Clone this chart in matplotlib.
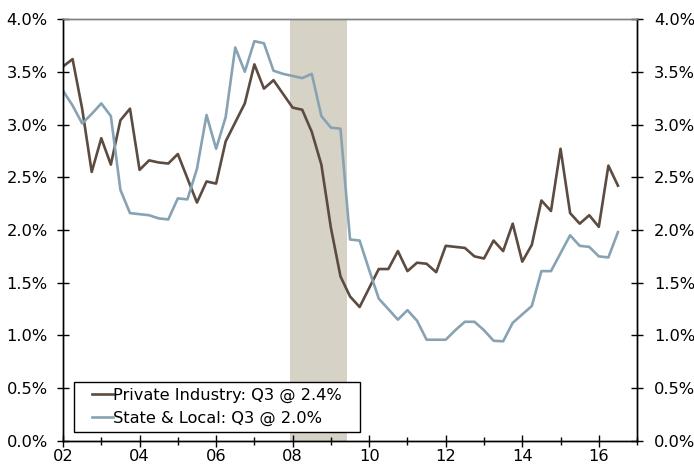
import matplotlib.pyplot as plt
import numpy as np
from matplotlib.patches import Rectangle
from matplotlib.ticker import FuncFormatter, MultipleLocator

# quarterly, 2002 Q1 .. 2016 Q3, % year-over-year
start_year = 2002
private_industry = [3.55, 3.62, 3.15, 2.55, 2.87, 2.62, 3.04, 3.15, 2.57, 2.66,
                    2.64, 2.63, 2.72, 2.49, 2.26, 2.46, 2.44, 2.84, 3.02, 3.20,
                    3.57, 3.34, 3.42, 3.29, 3.16, 3.14, 2.93, 2.62, 2.02, 1.56,
                    1.37, 1.27, 1.45, 1.63, 1.63, 1.80, 1.61, 1.69, 1.68, 1.60,
                    1.85, 1.84, 1.83, 1.75, 1.73, 1.90, 1.80, 2.06, 1.70, 1.86,
                    2.28, 2.18, 2.77, 2.16, 2.06, 2.14, 2.03, 2.61, 2.42]
state_local = [3.32, 3.18, 3.01, 3.10, 3.20, 3.08, 2.38, 2.16, 2.15, 2.14,
               2.11, 2.10, 2.30, 2.29, 2.58, 3.09, 2.77, 3.07, 3.73, 3.50,
               3.79, 3.77, 3.51, 3.48, 3.46, 3.44, 3.48, 3.08, 2.97, 2.96,
               1.91, 1.90, 1.62, 1.35, 1.25, 1.15, 1.24, 1.14, 0.96, 0.96,
               0.96, 1.05, 1.13, 1.13, 1.05, 0.95, 0.945, 1.12, 1.20, 1.28,
               1.61, 1.61, 1.78, 1.95, 1.85, 1.84, 1.75, 1.74, 1.98]
recession = (2007.92, 2009.42)
labels = ['Private Industry: Q3 @ 2.4%', 'State & Local: Q3 @ 2.0%']

x = start_year + np.arange(len(private_industry)) / 4.0
fs = 11.7

fig = plt.figure(figsize=(6.94, 4.67), dpi=100)
ax = fig.add_axes([0.0908, 0.0557, 0.8272, 0.9036])

ax.axvspan(recession[0], recession[1], color='#d6d2c5', lw=0, zorder=0)
ax.plot(x, private_industry, color='#5b4b40', lw=1.9, label=labels[0])
ax.plot(x, state_local, color='#87a3b3', lw=1.9, label=labels[1])

ax.set_xlim(2002, 2017)
ax.set_ylim(0, 4.0)
ax.xaxis.set_major_locator(MultipleLocator(2))
ax.xaxis.set_minor_locator(MultipleLocator(1))
ax.xaxis.set_major_formatter(FuncFormatter(lambda v, p: '%02d' % (int(round(v)) % 100)))
ax.yaxis.set_major_locator(MultipleLocator(0.5))
pct = FuncFormatter(lambda v, p: '%.1f%%' % v)
ax.yaxis.set_major_formatter(pct)

ax2 = ax.twinx()
ax2.set_ylim(ax.get_ylim())
ax2.yaxis.set_major_locator(MultipleLocator(0.5))
ax2.yaxis.set_major_formatter(pct)

for a in (ax, ax2):
    for s in ('left', 'right', 'bottom'):
        a.spines[s].set_color('black')
        a.spines[s].set_linewidth(1.0)
    a.spines['top'].set_color('#808080')
    a.spines['top'].set_linewidth(1.0)

ax.tick_params(axis='y', direction='inout', length=8, width=1, labelsize=fs, pad=7)
ax2.tick_params(axis='y', direction='inout', length=8, width=1, labelsize=fs, pad=8)
ax.tick_params(axis='x', which='major', direction='inout', length=8, width=1, labelsize=fs, pad=2)
ax.tick_params(axis='x', which='minor', direction='inout', length=6, width=1)

# legend box: wide side padding, tight top/bottom
box = Rectangle((0.0197, 0.022), 0.4977, 0.1185, transform=ax.transAxes,
                facecolor='white', edgecolor='black', lw=1.0, zorder=4)
ax.add_patch(box)
leg = ax.legend(loc='center', bbox_to_anchor=(0.0197 + 0.4977 / 2, 0.022 + 0.1185 / 2),
                fontsize=fs, handlelength=1.3, handletextpad=0.0, borderpad=0.0,
                labelspacing=0.5, frameon=False)
leg.set_zorder(5)

fig.savefig('out.png', dpi=100)
